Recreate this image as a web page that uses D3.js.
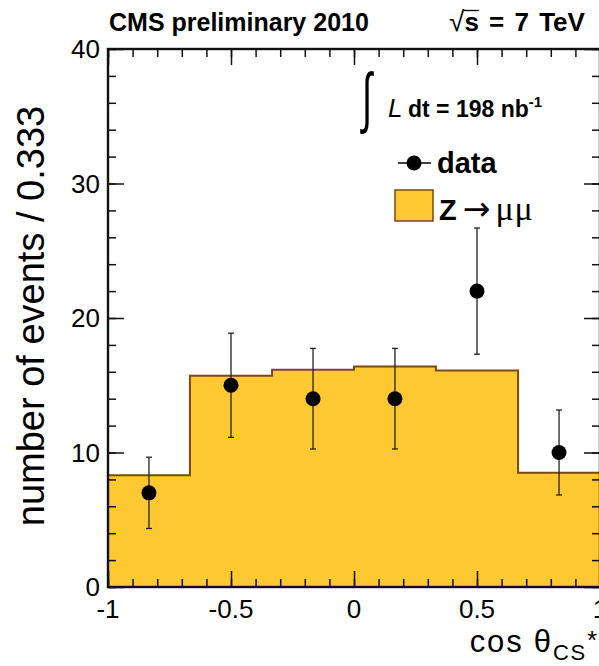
<!DOCTYPE html>
<html>
<head>
<meta charset="utf-8">
<script src="https://cdn.jsdelivr.net/npm/d3@7"></script>
<style>
  html, body { margin: 0; padding: 0; background: #fff; }
  svg { display: block; }
  text { font-family: "Liberation Sans", Arial, Helvetica, sans-serif; fill: #000; }
</style>
</head>
<body>
<svg id="chart" width="599" height="666"></svg>
<script>
// cos(theta*) in the Collins-Soper frame, Z -> mu mu candidates
const binEdges   = [-1, -0.667, -0.333, 0, 0.333, 0.667, 1];
const mcCounts   = [8.3, 15.7, 16.15, 16.4, 16.1, 8.5];
const dataCounts = [7, 15, 14, 14, 22, 10];
const dataErrors = [2.65, 3.87, 3.74, 3.74, 4.69, 3.16];
const xTickValues = [-1, -0.5, 0, 0.5, 1];
const xTickLabels = ["-1", "-0.5", "0", "0.5", "1"];
const yTickValues = [0, 10, 20, 30, 40];
const yTickLabels = ["0", "10", "20", "30", "40"];

const fillColor = "#fdc832";
const lineColor = "#7a4a12";

const svg = d3.select("#chart");
const plot = { left: 108, right: 600, top: 49, bottom: 587 };

const x = d3.scaleLinear().domain([-1, 1]).range([plot.left, plot.right]);
const y = d3.scaleLinear().domain([0, 40]).range([plot.bottom, plot.top]);

// ---- MC histogram (filled step shape) ----
const bins = mcCounts.map((v, i) => ({ x0: binEdges[i], x1: binEdges[i + 1], v }));
const stepPts = [];
bins.forEach(b => { stepPts.push([b.x0, b.v]); stepPts.push([b.x1, b.v]); });

svg.append("path")
  .datum(stepPts)
  .attr("fill", fillColor)
  .attr("d", d3.area().x(d => x(d[0])).y0(y(0)).y1(d => y(d[1])));

svg.append("path")
  .datum([[binEdges[0], 0], ...stepPts, [binEdges[binEdges.length - 1], 0]])
  .attr("fill", "none")
  .attr("stroke", lineColor)
  .attr("stroke-width", 2)
  .attr("stroke-linejoin", "miter")
  .attr("d", d3.line().x(d => x(d[0])).y(d => y(d[1])));

// ---- data points with error bars ----
const pts = dataCounts.map((v, i) => ({
  c: (binEdges[i] + binEdges[i + 1]) / 2, v, e: dataErrors[i]
}));
const eb = svg.append("g").attr("stroke", "#222").attr("stroke-width", 1.3);
pts.forEach(p => {
  const cx = x(p.c);
  eb.append("line").attr("x1", cx).attr("x2", cx).attr("y1", y(p.v - p.e)).attr("y2", y(p.v + p.e));
  [p.v - p.e, p.v + p.e].forEach(t =>
    eb.append("line").attr("x1", cx - 3).attr("x2", cx + 3).attr("y1", y(t)).attr("y2", y(t)));
});
svg.append("g").selectAll("circle").data(pts).join("circle")
  .attr("cx", d => x(d.c)).attr("cy", d => y(d.v)).attr("r", 7.5).attr("fill", "#000");

// ---- frame with inward ticks on all four sides ----
const axisG = svg.append("g");
function inwardAxis(axisFn, scale, values, size, transform) {
  axisG.append("g").attr("transform", transform)
    .call(axisFn(scale).tickValues(values).tickSize(size).tickFormat(""))
    .call(g => g.select(".domain").remove())
    .call(g => g.selectAll("line").attr("stroke", "#111").attr("stroke-width", 1.5));
}
const xMinor = d3.range(-10, 11).map(i => i / 10);
const yMinor = d3.range(0, 21).map(i => i * 2);
inwardAxis(d3.axisTop, x, xMinor, 8, `translate(0,${plot.bottom})`);
inwardAxis(d3.axisTop, x, xTickValues, 16, `translate(0,${plot.bottom})`);
inwardAxis(d3.axisBottom, x, xMinor, 8, `translate(0,${plot.top})`);
inwardAxis(d3.axisBottom, x, xTickValues, 16, `translate(0,${plot.top})`);
inwardAxis(d3.axisRight, y, yMinor, 8, `translate(${plot.left},0)`);
inwardAxis(d3.axisRight, y, yTickValues, 16, `translate(${plot.left},0)`);
inwardAxis(d3.axisLeft, y, yMinor, 8, `translate(${plot.right},0)`);
inwardAxis(d3.axisLeft, y, yTickValues, 16, `translate(${plot.right},0)`);

axisG.append("rect")
  .attr("x", plot.left).attr("y", plot.top)
  .attr("width", plot.right - plot.left).attr("height", plot.bottom - plot.top)
  .attr("fill", "none").attr("stroke", "#111").attr("stroke-width", 2.4);

// tick labels
svg.append("g").selectAll("text").data(xTickValues).join("text")
  .attr("x", d => x(d)).attr("y", 618)
  .attr("text-anchor", "middle").attr("font-size", 26)
  .text((d, i) => xTickLabels[i]);
svg.append("g").selectAll("text").data(yTickValues).join("text")
  .attr("x", 100).attr("y", d => y(d)).attr("dy", "0.36em")
  .attr("text-anchor", "end").attr("font-size", 26)
  .text((d, i) => yTickLabels[i]);

// axis titles
svg.append("text")
  .attr("transform", "translate(44,316) rotate(-90)")
  .attr("text-anchor", "middle").attr("font-size", 38)
  .text("number of events / 0.333");

const xt = svg.append("text").attr("x", 599).attr("y", 652)
  .attr("text-anchor", "end").attr("font-size", 31).attr("letter-spacing", 1.8);
xt.append("tspan").text("cos θ");
xt.append("tspan").attr("font-size", 22).attr("dy", 8).text("CS");
xt.append("tspan").attr("font-size", 26).attr("dy", -11).text("*");

// header
svg.append("text").attr("x", 109).attr("y", 31)
  .attr("font-size", 25).attr("font-weight", "bold")
  .text("CMS preliminary 2010");

const rs = svg.append("text").attr("x", 449).attr("y", 31)
  .attr("font-size", 26).attr("word-spacing", 3);
rs.append("tspan").attr("font-weight", "normal").attr("font-size", 28).text("√");
const sSpan = rs.append("tspan").attr("font-weight", "bold").text("s = 7 TeV");
{
  const sx = sSpan.node().getStartPositionOfChar(0).x;
  const sw = sSpan.node().getExtentOfChar(0).width;
  svg.append("line").attr("x1", sx - 1).attr("x2", sx + sw)
    .attr("y1", 10.5).attr("y2", 10.5).attr("stroke", "#000").attr("stroke-width", 1.3);
}

// luminosity
svg.append("text").attr("transform", "translate(362,120) scale(0.8,1.45)")
  .attr("font-family", "DejaVu Sans").attr("font-size", 46).text("∫");
svg.append("text").attr("x", 388).attr("y", 117)
  .attr("font-family", "Liberation Serif").attr("font-style", "italic")
  .attr("font-size", 26).text("L");
const lumi = svg.append("text").attr("x", 408).attr("y", 117)
  .attr("font-size", 23).attr("font-weight", "bold");
lumi.append("tspan").text("dt = 198 nb");
lumi.append("tspan").attr("font-size", 15).attr("dy", -10).text("-1");

// legend
const leg = svg.append("g");
leg.append("line").attr("x1", 398).attr("x2", 431).attr("y1", 163).attr("y2", 163)
  .attr("stroke", "#000").attr("stroke-width", 1.5);
leg.append("circle").attr("cx", 414).attr("cy", 163).attr("r", 7.5).attr("fill", "#000");
leg.append("text").attr("x", 437).attr("y", 173)
  .attr("font-size", 29).attr("font-weight", "bold").text("data");
leg.append("rect").attr("x", 395).attr("y", 190).attr("width", 38).attr("height", 31)
  .attr("fill", fillColor).attr("stroke", lineColor).attr("stroke-width", 1.5);
const zt = leg.append("text").attr("x", 439).attr("y", 220).attr("font-size", 29);
zt.append("tspan").attr("font-weight", "bold").text("Z");
zt.append("tspan").attr("dx", 6).attr("font-family", "DejaVu Sans").attr("font-size", 33).text("→");
zt.append("tspan").attr("dx", 5).attr("font-family", "Liberation Serif").attr("font-size", 34)
  .attr("letter-spacing", 1).text("μμ");
</script>
</body>
</html>
